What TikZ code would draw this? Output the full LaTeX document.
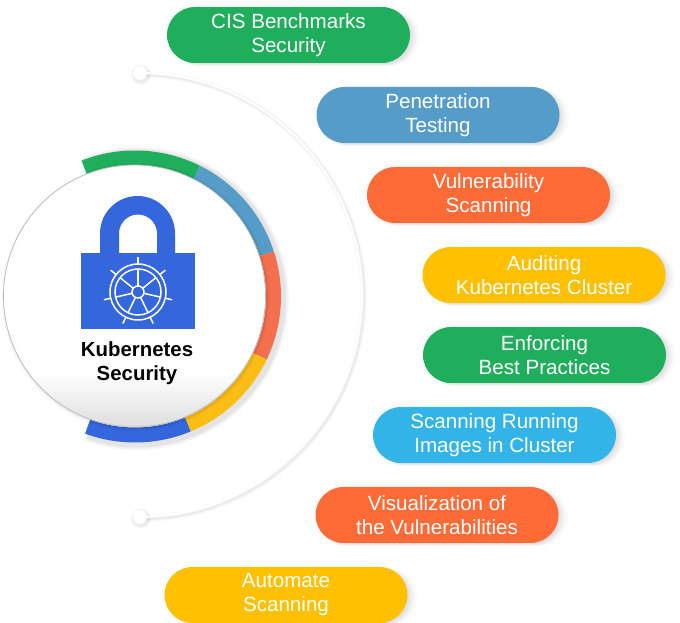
\documentclass[tikz,border=0pt]{standalone}
\usepackage{fontspec}
\setmainfont{Liberation Sans}
\usetikzlibrary{shadows}
\definecolor{cgreen}{HTML}{1FAE5B}
\definecolor{cteal}{HTML}{559DC8}
\definecolor{corange}{HTML}{FF6B37}
\definecolor{cyellow}{HTML}{FFC000}
\definecolor{cazure}{HTML}{33B4E8}
\definecolor{cblue}{HTML}{3367DB}
\definecolor{rorange}{HTML}{F46F4E}
\definecolor{ryellow}{HTML}{FBBC14}
\tikzset{
  softshadow/.style={
    general shadow={shadow xshift=5pt,shadow yshift=-2pt,fill=black,opacity=.02,rounded corners=31pt,shadow scale=1.035},
    general shadow={shadow xshift=4.5pt,shadow yshift=-2pt,fill=black,opacity=.03,shadow scale=1.015},
    general shadow={shadow xshift=4pt,shadow yshift=-2pt,fill=black,opacity=.035},
    general shadow={shadow xshift=3pt,shadow yshift=-1.5pt,fill=black,opacity=.04,shadow scale=.99}},
  pill/.style={softshadow,rectangle,rounded corners=28pt,minimum width=243pt,minimum height=56pt,inner sep=0pt,
    text=white,align=center,font=\fontsize{20.6}{24}\selectfont},
  ringarc/.style={line width=15pt},
  dotnode/.style={circle,fill=white,minimum size=13pt,inner sep=0pt},
  wheelline/.style={draw=white,line width=1.5pt},
  title/.style={font=\bfseries\fontsize{20.4}{23.5}\selectfont,text=black,align=center}
}
\newcommand{\ringseg}[3]{\draw[ringarc,#1] (135,326.5) ++(#2:138.5) arc[start angle=#2,end angle=#3,radius=138.5];}
\begin{document}
\begin{tikzpicture}[x=1pt,y=1pt]
\useasboundingbox (0,0) rectangle (680,623);
% connector shadow and dots
\node[dotnode] (dtop) at (140,550) {};
\node[dotnode] (dbot) at (140,106) {};
\foreach \w/\o in {7/.015,5/.025,3.5/.035}{
  \draw[black,opacity=\o,line width=\w pt] ([shift={(1.5,-1.5)}]dtop.center) arc[start angle=90,end angle=-90,radius=222];
  \fill[black,opacity=\o] ([shift={(1,-1.5)}]dtop.center) circle (7+\w/2);
  \fill[black,opacity=\o] ([shift={(1,-1.5)}]dbot.center) circle (7+\w/2);
}
\draw[white,line width=2pt] (dtop.center) arc[start angle=90,end angle=-90,radius=222];
\fill[white] (dtop.center) circle (7);
\fill[white] (dbot.center) circle (7);
% ring shadow
\foreach \w/\o in {24/.025,21/.035,18/.05}{
  \draw[black,opacity=\o,line width=\w pt] (135,326.5) ++(111.5:140) ++(2,-2) arc[start angle=111.5,end angle=-110,radius=140];
}
% ring
\ringseg{cgreen}{111.5}{63.5}
\ringseg{cteal}{63.5}{18}
\ringseg{rorange}{18}{-25.6}
\ringseg{ryellow}{-25.6}{-67.6}
\ringseg{cblue}{-67.6}{-110}
% disc
\foreach \w/\o in {3/.03,1.5/.05}{\fill[black,opacity=\o] (135.5,326) circle (131+\w);}
\fill[white] (134.5,327) circle (131);
\begin{scope}
  \clip (134.5,327) circle (131);
  \shade[top color=white,bottom color=black!13] (0,196) rectangle (280,250);
\end{scope}
\draw[black!28,line width=.7pt] (134.5,327) circle (131);
% lock
\fill[cblue] (81,294) rectangle (195,370);
\fill[cblue,even odd rule] (100,369) -- (100,389.5) arc[start angle=180,end angle=0,radius=37.5] -- (175,369) -- (157,369) -- (157,389.5) arc[start angle=0,end angle=180,radius=19] -- (119,369) -- cycle;
% helm wheel
\begin{scope}[shift={(138,331)}]
  \draw[wheelline] (0,0) circle (28);
  \draw[wheelline] (0,0) circle (23);
  \draw[wheelline] (0,0) circle (6);
  \foreach \k in {0,...,6}{
    \pgfmathsetmacro{\a}{90-\k*360/7}
    \draw[wheelline] (\a:6) -- (\a:23);
    \draw[wheelline] (\a:28) -- (\a:35);
  }
\end{scope}
\node[title] (ttl) at (137,260) {Kubernetes\\Security};
% pills
\node[pill,fill=cgreen] (p1) at (288.5,588) {CIS Benchmarks\\Security};
\node[pill,fill=cteal] (p2) at (438,508) {Penetration\\Testing};
\node[pill,fill=corange] (p3) at (488.5,428) {Vulnerability\\Scanning};
\node[pill,fill=cyellow] (p4) at (544,348) {Auditing\\Kubernetes Cluster};
\node[pill,fill=cgreen] (p5) at (544.5,268) {Enforcing\\Best Practices};
\node[pill,fill=cazure] (p6) at (494.5,188) {Scanning Running\\Images in Cluster};
\node[pill,fill=corange] (p7) at (437,108) {Visualization of\\the Vulnerabilities};
\node[pill,fill=cyellow] (p8) at (286,28) {Automate\\Scanning};
\end{tikzpicture}
\end{document}
